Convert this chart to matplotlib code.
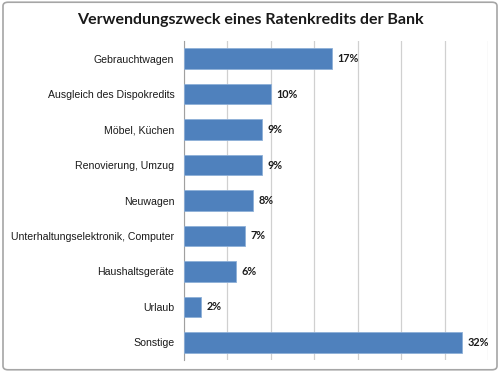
import matplotlib.pyplot as plt
from matplotlib.patches import FancyBboxPatch

categories = ["Gebrauchtwagen", "Ausgleich des Dispokredits", "Möbel, Küchen",
              "Renovierung, Umzug", "Neuwagen", "Unterhaltungselektronik, Computer",
              "Haushaltsgeräte", "Urlaub", "Sonstige"]
values = [17, 10, 9, 9, 8, 7, 6, 2, 32]
value_labels = ["17%", "10%", "9%", "9%", "8%", "7%", "6%", "2%", "32%"]

fig = plt.figure(figsize=(5, 3.72), dpi=100)
fig.patches.append(FancyBboxPatch((0.006, 0.006), 0.988, 0.988,
                                  boxstyle="round,pad=0,rounding_size=0.01",
                                  transform=fig.transFigure, facecolor="none",
                                  edgecolor="#a6a6a6", linewidth=1.2, zorder=-10))

ax = fig.add_axes([0.368, 0.032, 0.608, 0.858])
ax.set_facecolor("none")

y = list(range(len(categories)))
ax.barh(y, values, height=0.58, color="#4f81bd", edgecolor="#8eb0d8", linewidth=0.6, zorder=3)
for yi, v, lab in zip(y, values, value_labels):
    ax.text(v + 0.6, yi, lab, va="center", ha="left", fontsize=7.8,
            fontweight="bold", family="Lato", color="#1a1a1a")

ax.set_ylim(len(categories) - 0.5, -0.5)
ax.set_xlim(0, 35)
ax.set_xticks(range(0, 36, 5))
ax.set_xticklabels([])
ax.tick_params(axis="x", length=0)
ax.grid(axis="x", color="#d0d0d0", linewidth=0.9, zorder=0)
ax.set_yticks(y)
ax.set_yticklabels(categories, family="Liberation Sans", fontsize=7.6, color="#1a1a1a")
ax.tick_params(axis="y", length=0, pad=7)
for s in ["top", "right", "bottom"]:
    ax.spines[s].set_visible(False)
ax.spines["left"].set_color("#a0a0a0")
ax.spines["left"].set_linewidth(0.8)

fig.text(0.5, 0.945, "Verwendungszweck eines Ratenkredits der Bank", ha="center",
         va="center", fontsize=11.5, fontweight="bold", family="Lato", color="#1a1a1a")

fig.savefig("out.png", dpi=100)
